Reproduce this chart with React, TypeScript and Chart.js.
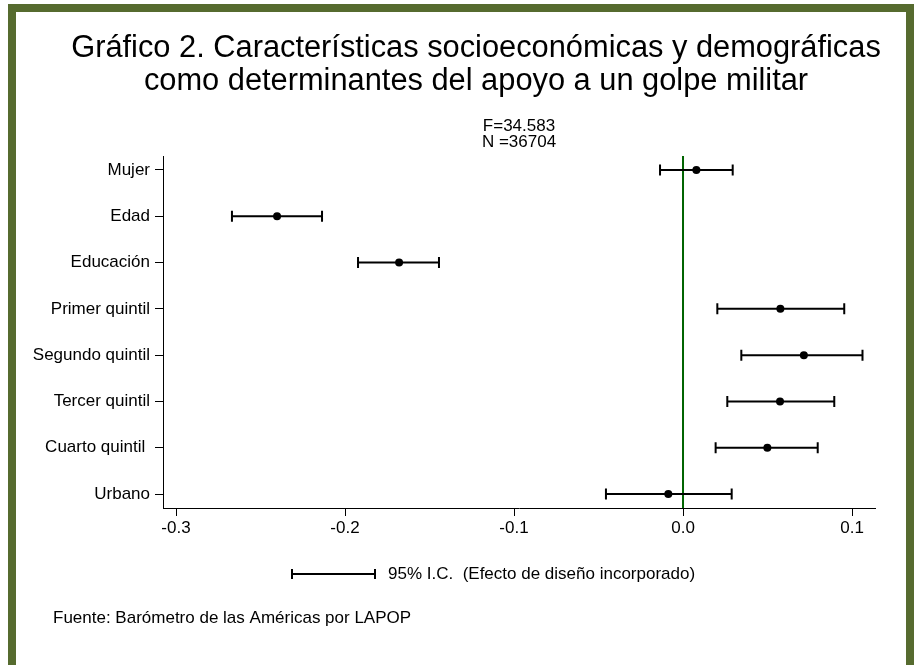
import React, { useEffect, useRef } from "react";
import { Chart, registerables } from "chart.js";

Chart.register(...registerables);

const FONT = "'Liberation Sans', Arial, Helvetica, sans-serif";

const titleLines = [
  "Gráfico 2. Características socioeconómicas y demográficas",
  "como determinantes del apoyo a un golpe militar",
];
const statLines = ["F=34.583", "N =36704"];
const categories = [
  "Mujer",
  "Edad",
  "Educación",
  "Primer quintil",
  "Segundo quintil",
  "Tercer quintil",
  "Cuarto quintil ",
  "Urbano",
];
const estimates = [0.0079, -0.2402, -0.168, 0.0576, 0.0715, 0.0574, 0.0499, -0.0087];
const lowerCI = [-0.0136, -0.2669, -0.1923, 0.0203, 0.0345, 0.0262, 0.0193, -0.0456];
const upperCI = [0.0294, -0.2136, -0.1444, 0.0954, 0.1062, 0.0895, 0.0797, 0.0288];
const xTicks = [-0.3, -0.2, -0.1, 0.0, 0.1];
const legendText = "95% I.C.  (Efecto de diseño incorporado)";
const sourceText = "Fuente: Barómetro de las Américas por LAPOP";

const errorBarPlugin = {
  id: "errorBars",
  beforeDatasetsDraw(chart: any) {
    const { ctx, chartArea, scales } = chart;
    const x = scales.x;
    const y = scales.y;
    ctx.save();
    const x0 = x.getPixelForValue(0);
    ctx.strokeStyle = "#006400";
    ctx.lineWidth = 2;
    ctx.beginPath();
    ctx.moveTo(x0, chartArea.top);
    ctx.lineTo(x0, chartArea.bottom);
    ctx.stroke();

    ctx.strokeStyle = "#000";
    ctx.lineWidth = 2;
    const cap = 5.5;
    categories.forEach((_, i) => {
      const yp = y.getPixelForValue(i);
      const xl = x.getPixelForValue(lowerCI[i]);
      const xr = x.getPixelForValue(upperCI[i]);
      ctx.beginPath();
      ctx.moveTo(xl, yp);
      ctx.lineTo(xr, yp);
      ctx.moveTo(xl, yp - cap);
      ctx.lineTo(xl, yp + cap);
      ctx.moveTo(xr, yp - cap);
      ctx.lineTo(xr, yp + cap);
      ctx.stroke();
    });
    ctx.restore();
  },
  afterDraw(chart: any) {
    const { ctx, chartArea } = chart;
    ctx.save();
    const lx = chartArea.left + 129;
    const ly = chartArea.bottom + 66;
    const lw = 83;
    ctx.strokeStyle = "#000";
    ctx.lineWidth = 2;
    ctx.beginPath();
    ctx.moveTo(lx, ly);
    ctx.lineTo(lx + lw, ly);
    ctx.moveTo(lx, ly - 5);
    ctx.lineTo(lx, ly + 5);
    ctx.moveTo(lx + lw, ly - 5);
    ctx.lineTo(lx + lw, ly + 5);
    ctx.stroke();
    ctx.fillStyle = "#000";
    ctx.font = `17px ${FONT}`;
    ctx.textBaseline = "middle";
    ctx.textAlign = "left";
    ctx.fillText(legendText, lx + lw + 13, ly);
    ctx.fillText(sourceText, 53, chartArea.bottom + 110);
    ctx.restore();
  },
};

export default function App() {
  const ref = useRef<HTMLCanvasElement | null>(null);

  useEffect(() => {
    if (!ref.current) return;
    const chart = new Chart(ref.current, {
      type: "scatter",
      data: {
        datasets: [
          {
            data: estimates.map((v, i) => ({ x: v, y: i })),
            backgroundColor: "#000",
            borderColor: "#000",
            borderWidth: 0,
            pointRadius: 4,
            pointHoverRadius: 4,
          },
        ],
      },
      options: {
        animation: false,
        responsive: false,
        events: [],
        layout: { padding: { left: 16, right: -18, top: 0, bottom: 127 } },
        plugins: {
          legend: { display: false },
          tooltip: { enabled: false },
          title: {
            display: true,
            text: titleLines,
            color: "#000",
            font: { family: FONT, size: 30.8, weight: "normal", lineHeight: 33 / 30.8 },
            padding: { top: 32.5, bottom: 0 },
          },
          subtitle: {
            display: true,
            text: statLines,
            color: "#000",
            fullSize: false,
            font: { family: FONT, size: 17, weight: "normal", lineHeight: 16 / 17 },
            padding: { top: 19.5, bottom: 6 },
          },
        },
        scales: {
          x: {
            type: "linear",
            min: -0.3077,
            max: 0.1136,
            afterBuildTicks: (s: any) => {
              s.ticks = xTicks.map((v) => ({ value: v }));
            },
            afterFit: (s: any) => {
              s.height = 30;
            },
            ticks: {
              color: "#000",
              font: { family: FONT, size: 17 },
              padding: 2.5,
              maxRotation: 0,
              autoSkip: false,
              callback: (v: any) => Number(v).toFixed(1),
            },
            grid: {
              display: true,
              drawOnChartArea: false,
              drawTicks: true,
              tickLength: 8,
              color: "#000",
              lineWidth: 1,
            },
            border: { display: true, color: "#000", width: 1 },
          },
          y: {
            type: "linear",
            position: "left",
            min: -0.3,
            max: 7.3,
            reverse: true,
            afterBuildTicks: (s: any) => {
              s.ticks = categories.map((_, i) => ({ value: i }));
            },
            afterFit: (s: any) => {
              s.width = 147;
            },
            ticks: {
              color: "#000",
              font: { family: FONT, size: 17 },
              padding: 5,
              autoSkip: false,
              callback: (v: any) => categories[Math.round(Number(v))] ?? "",
            },
            grid: {
              display: true,
              drawOnChartArea: false,
              drawTicks: true,
              tickLength: 8,
              color: "#000",
              lineWidth: 1,
            },
            border: { display: true, color: "#000", width: 1 },
          },
          spacer: {
            type: "linear",
            position: "right",
            display: true,
            grid: { display: false, drawTicks: false },
            border: { display: false },
            ticks: { display: false },
            afterFit: (s: any) => {
              s.width = 61;
            },
          },
        },
      } as any,
      plugins: [errorBarPlugin],
    });
    return () => chart.destroy();
  }, []);

  return (
    <div
      style={{
        position: "absolute",
        left: 0,
        top: 0,
        width: 918,
        height: 665,
        overflow: "hidden",
        background: "#fff",
      }}
    >
      <div
        style={{
          position: "absolute",
          left: 8,
          top: 4,
          width: 906,
          height: 700,
          boxSizing: "border-box",
          border: "8px solid #566b2f",
          borderBottom: "none",
        }}
      />
      <canvas
        ref={ref}
        width={918}
        height={665}
        style={{ position: "absolute", left: 0, top: 0, display: "block" }}
      />
    </div>
  );
}
